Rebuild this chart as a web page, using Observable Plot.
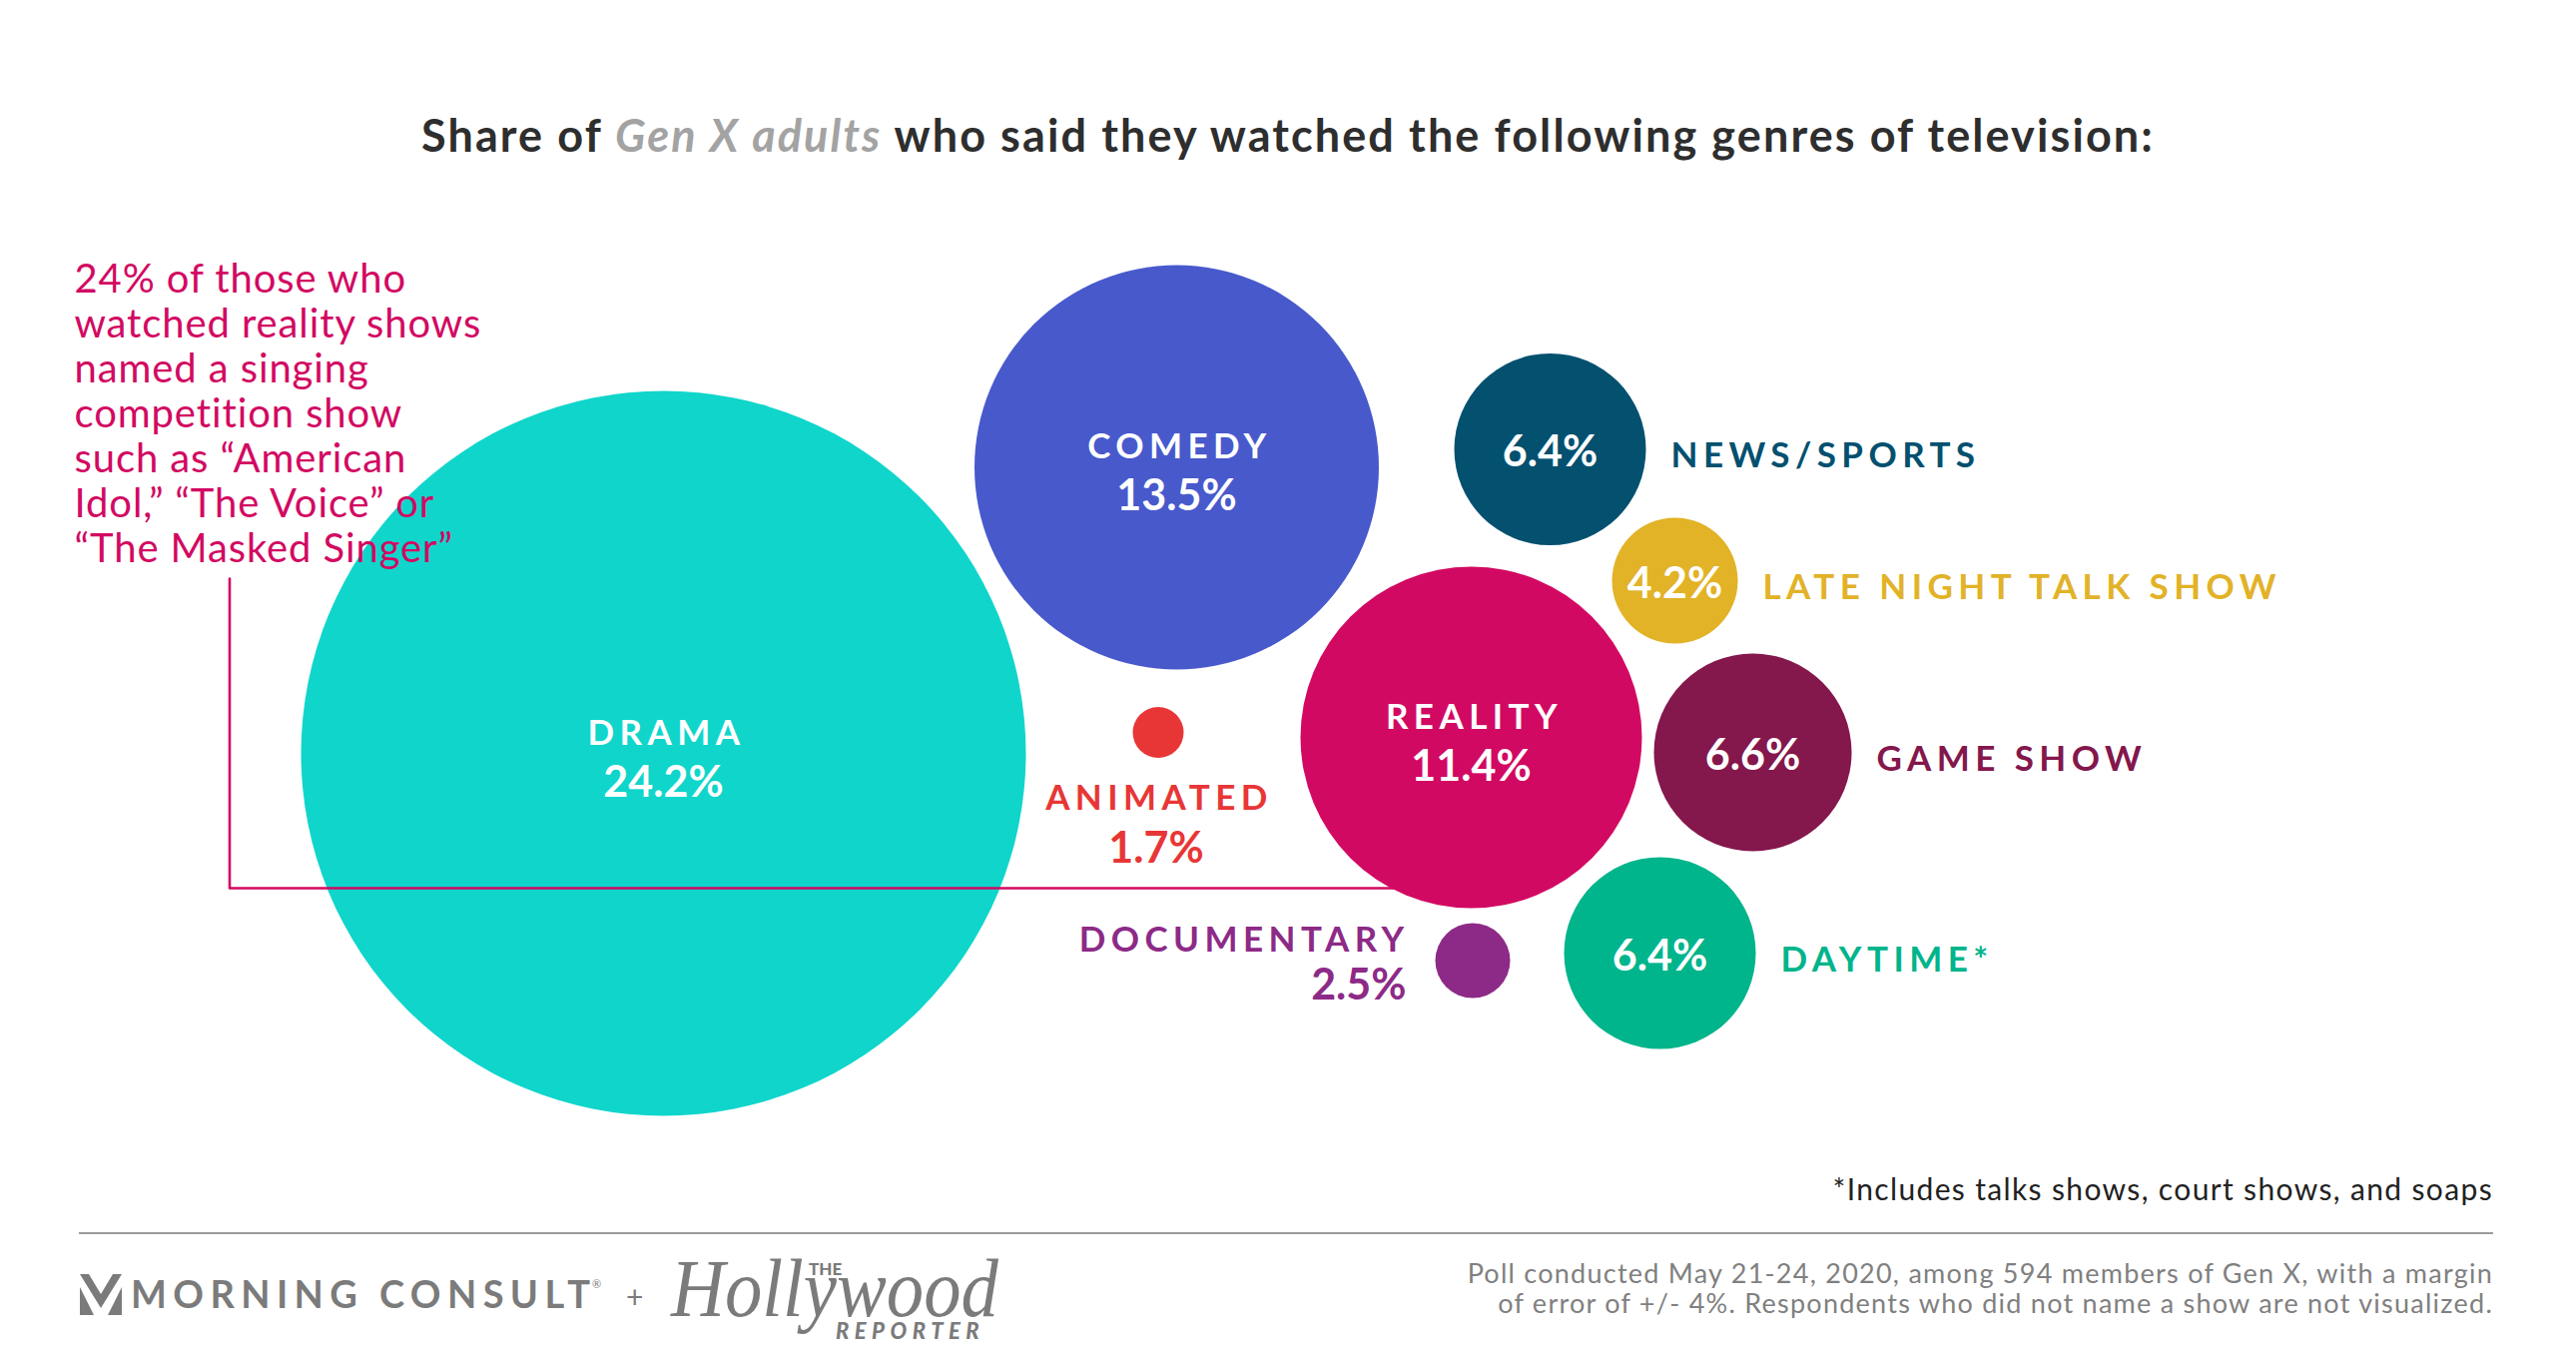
<!DOCTYPE html>
<html>
<head>
<meta charset="utf-8">
<script src="https://cdn.jsdelivr.net/npm/d3@7"></script>
<script src="https://cdn.jsdelivr.net/npm/@observablehq/plot@0.6"></script>
<style>
  html, body { margin: 0; padding: 0; background: #fff; }
  #page { position: relative; width: 2580px; height: 1356px; overflow: hidden; font-family: Lato, sans-serif; }
  .abs { position: absolute; white-space: nowrap; line-height: 1; }
  #chart { position: absolute; left: 0; top: 200px; }
  g[aria-description="genre names"] { letter-spacing: 0.155em; }
  g[aria-description="annotation"] { letter-spacing: 0.9px; }
</style>
</head>
<body>
<div id="page">
  <div class="abs" id="title" style="left:0;width:2580px;text-align:center;top:112.8px;font-size:45px;font-weight:700;letter-spacing:2.1px;color:#2e2e2e;">Share of <span style="color:#a3a3a3;font-style:italic;">Gen X adults</span> who said they watched the following genres of television:</div>
  <div id="chart"></div>
  <div class="abs" style="right:83px;top:1175px;font-size:30px;letter-spacing:1.35px;color:#222;">*Includes talks shows, court shows, and soaps</div>
  <div class="abs" style="left:79px;top:1234px;width:2418px;height:2px;background:#9b9b9b;"></div>
  <div class="abs" style="right:83px;top:1259.5px;font-size:27px;line-height:30px;letter-spacing:1.25px;color:#808080;text-align:right;">Poll conducted May 21-24, 2020, among 594 members of Gen X, with a margin<br>of error of +/- 4%. Respondents who did not name a show are not visualized.</div>
  <svg class="abs" style="left:79.5px;top:1276px;" width="42" height="41" viewBox="0 0 42 41">
    <polygon points="0,0 9,0 21,20 33,0 42,0 21,34" fill="#7b7b7b"/>
    <polygon points="0,13 0,41 14,41" fill="#7b7b7b"/>
    <polygon points="42,13 42,41 28,41" fill="#7b7b7b"/>
  </svg>
  <div class="abs" style="left:131px;top:1276.3px;font-size:38px;font-weight:700;letter-spacing:6.4px;color:#7b7b7b;">MORNING CONSULT</div>
  <div class="abs" style="left:593px;top:1280px;font-size:11px;color:#7b7b7b;">®</div>
  <div class="abs" style="left:627px;top:1283px;font-size:30px;color:#7b7b7b;">+</div>
  <div class="abs" style="left:672px;top:1248.5px;font-size:83px;font-family:'Liberation Serif',serif;font-style:italic;color:#7b7b7b;transform:scaleX(0.9);transform-origin:left top;">Hollywood</div>
  <div class="abs" style="left:810px;top:1262px;font-size:17px;font-weight:900;color:#7b7b7b;">THE</div>
  <div class="abs" style="left:837px;top:1321.5px;font-size:22px;font-weight:900;font-style:italic;letter-spacing:5.5px;color:#7b7b7b;">REPORTER</div>
</div>
<script>
// ---- data ----
const genres = ["Drama", "Comedy", "News/Sports", "Late Night Talk Show", "Reality", "Game Show", "Daytime*", "Documentary", "Animated"];
const genreLabels = ["DRAMA", "COMEDY", "NEWS/SPORTS", "LATE NIGHT TALK SHOW", "REALITY", "GAME SHOW", "DAYTIME*", "DOCUMENTARY", "ANIMATED"];
const shares = [24.2, 13.5, 6.4, 4.2, 11.4, 6.6, 6.4, 2.5, 1.7];
// ---- styles / layout of the hand-packed bubble cluster ----
const genreColors = ["#10d5cb", "#4859cc", "#03506f", "#e2b227", "#d20962", "#84174c", "#00b48b", "#8d2a87", "#e83636"];
const clusterX = [664, 1178, 1552, 1677, 1473, 1755, 1662, 1474.5, 1159.5];
const clusterY = [754, 467.5, 449.5, 581, 738, 753, 954, 961.5, 733];
const labelPlacement = ["inside", "inside", "right", "right", "inside", "right", "right", "left", "below"];
const annotationLines = ["24% of those who", "watched reality shows", "named a singing", "competition show", "such as “American", "Idol,” “The Voice” or", "“The Masked Singer”"];
const annotationAnchor = {x: 74, y: 562.7};
const calloutX = [229.5, 229.5, 1473];
const calloutY = [579, 889, 889];

const rows = genres.map((g, i) => ({
  genre: g, label: genreLabels[i], share: shares[i], color: genreColors[i],
  x: clusterX[i], y: clusterY[i], place: labelPlacement[i],
  pct: d3.format(".1f")(shares[i]) + "%"
}));
const callout = calloutX.map((x, i) => ({x, y: calloutY[i]}));

const rDomain = [0, 24.2], rRange = [0, 363];
const rPx = d3.scaleLinear().domain(rDomain).range(rRange);

const font = "Lato";
const nameSize = 35, valueSize = 43;
const accent = "#d20962";

const plot = Plot.plot({
  width: 2580, height: 960, margin: 0,
  style: {background: "transparent", fontFamily: font, overflow: "visible"},
  x: {domain: [0, 2580], range: [0, 2580], axis: null},
  y: {domain: [200, 1160], range: [0, 960], axis: null},
  r: {type: "linear", domain: rDomain, range: rRange},
  color: {type: "identity"},
  marks: [
    Plot.dot(rows.filter(d => d.genre === "Drama"), {x: "x", y: "y", r: "share", fill: "color"}),
    Plot.line(callout, {x: "x", y: "y", stroke: accent, strokeWidth: 2.6, curve: "linear"}),
    Plot.dot(rows.filter(d => d.genre !== "Drama"), {x: "x", y: "y", r: "share", fill: "color"}),
    Plot.text([annotationLines.join("\n")], {x: annotationAnchor.x, y: annotationAnchor.y, text: d => d,
      textAnchor: "start", lineAnchor: "bottom", lineHeight: 45 / 40, fontSize: 40, fill: accent, fontFamily: font,
      ariaDescription: "annotation"}),
    // inside: name + value
    Plot.text(rows.filter(d => d.place === "inside"), {x: "x", y: "y", text: "label", dy: -9, dx: 3, lineAnchor: "bottom",
      fill: "white", fontSize: nameSize, fontWeight: 700, fontFamily: font, ariaDescription: "genre names"}),
    Plot.text(rows.filter(d => d.place === "inside"), {x: "x", y: "y", text: "pct", dy: 43, lineAnchor: "bottom",
      fill: "white", fontSize: valueSize, fontWeight: 700, fontFamily: font}),
    // right: value inside, name to the right
    Plot.text(rows.filter(d => d.place === "right"), {x: "x", y: "y", text: "pct", dy: 17, lineAnchor: "bottom",
      fill: "white", fontSize: valueSize, fontWeight: 700, fontFamily: font}),
    Plot.text(rows.filter(d => d.place === "right"), {x: d => d.x + rPx(d.share), y: "y", text: "label", dx: 25, dy: 18,
      textAnchor: "start", lineAnchor: "bottom", fill: "color", fontSize: nameSize, fontWeight: 700, fontFamily: font, ariaDescription: "genre names"}),
    // left
    Plot.text(rows.filter(d => d.place === "left"), {x: d => d.x - rPx(d.share), y: "y", text: "label", dx: -26, dy: -9,
      textAnchor: "end", lineAnchor: "bottom", fill: "color", fontSize: nameSize, fontWeight: 700, fontFamily: font, ariaDescription: "genre names"}),
    Plot.text(rows.filter(d => d.place === "left"), {x: d => d.x - rPx(d.share), y: "y", text: "pct", dx: -29, dy: 38.5,
      textAnchor: "end", lineAnchor: "bottom", fill: "color", fontSize: valueSize, fontWeight: 700, fontFamily: font}),
    // below
    Plot.text(rows.filter(d => d.place === "below"), {x: "x", y: "y", text: "label", dx: 1, dy: 77,
      lineAnchor: "bottom", fill: "color", fontSize: nameSize, fontWeight: 700, fontFamily: font, ariaDescription: "genre names"}),
    Plot.text(rows.filter(d => d.place === "below"), {x: "x", y: "y", text: "pct", dx: -2, dy: 130,
      lineAnchor: "bottom", fill: "color", fontSize: valueSize, fontWeight: 700, fontFamily: font})
  ]
});
document.getElementById("chart").appendChild(plot);
</script>
</body>
</html>
